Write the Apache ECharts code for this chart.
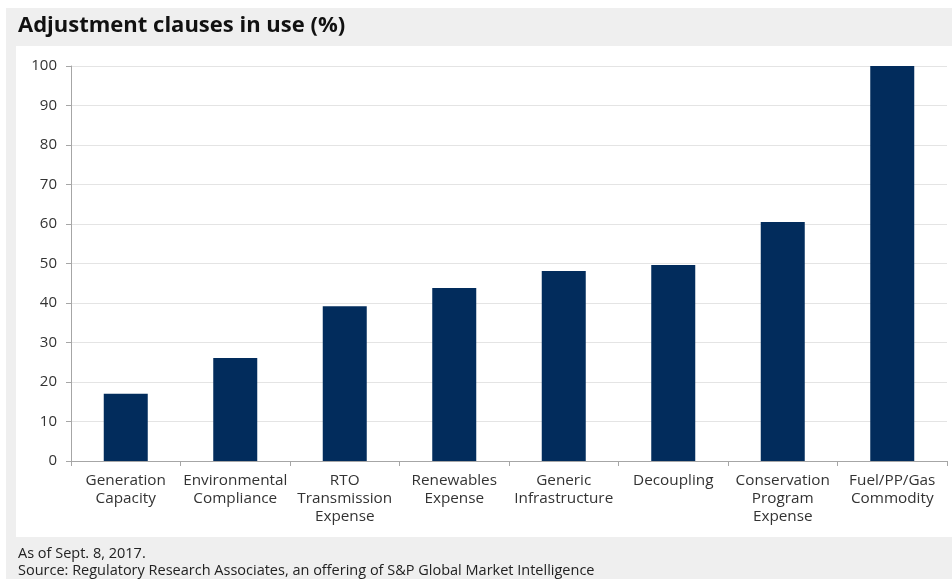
<!DOCTYPE html>
<html><head><meta charset="utf-8">
<script src="https://cdn.jsdelivr.net/npm/echarts@6/dist/echarts.min.js"></script>
<style>html,body{margin:0;padding:0;background:#fff}#c{width:952px;height:579px}</style>
</head><body><div id="c"></div>
<script>
const categories = ["Generation\nCapacity","Environmental\nCompliance","RTO\nTransmission\nExpense","Renewables\nExpense","Generic\nInfrastructure","Decoupling","Conservation\nProgram\nExpense","Fuel/PP/Gas\nCommodity"];
const values = [17.0, 26.1, 39.2, 43.8, 48.1, 49.6, 60.5, 100];
const yTicks = {min: 0, max: 100, interval: 10};
const titleText = "Adjustment clauses in use (%)";
const notes = ["As of Sept. 8, 2017.", "Source: Regulatory Research Associates, an offering of S&P Global Market Intelligence"];

const FONT = "'Open Sans', Roboto, sans-serif";
const chart = echarts.init(document.getElementById('c'), null, {renderer:'canvas'});
chart.setOption({
  animation: false,
  backgroundColor: '#ffffff',
  graphic: [
    {type:'rect', z:-10, silent:true, shape:{x:6,y:8,width:946,height:571}, style:{fill:'#efefef'}},
    {type:'rect', z:-9, silent:true, shape:{x:16,y:46,width:936,height:491}, style:{fill:'#ffffff'}},
    {type:'text', left:18, top:15, style:{text:titleText, font:"bold 22px "+FONT, fill:'#111'}},
    {type:'text', left:18, top:545, style:{text:notes[0]+"\n"+notes[1], font:"14.5px "+FONT, fill:'#222', lineHeight:17}}
  ],
  grid: {left:71, right:5, top:66, bottom:118, containLabel:false},
  xAxis: {
    type:'category', data:categories, boundaryGap:true,
    axisLine:{show:true, lineStyle:{color:'#a6a6a6', width:1}},
    axisTick:{show:true, alignWithLabel:false, length:5, lineStyle:{color:'#a6a6a6'}},
    axisLabel:{interval:0, color:'#333', fontSize:15.3, fontFamily:FONT, lineHeight:18, margin:11}
  },
  yAxis: {
    type:'value', min:yTicks.min, max:yTicks.max, interval:yTicks.interval,
    axisLine:{show:true, lineStyle:{color:'#a6a6a6', width:1}},
    axisTick:{show:true, length:5, lineStyle:{color:'#a6a6a6'}},
    axisLabel:{color:'#333', fontSize:15, fontFamily:FONT, margin:14},
    splitLine:{show:true, lineStyle:{color:'#e4e4e4', width:1}}
  },
  series: [{type:'bar', data:values, barWidth:44, itemStyle:{color:'#022c5c'}}]
});
</script></body></html>
